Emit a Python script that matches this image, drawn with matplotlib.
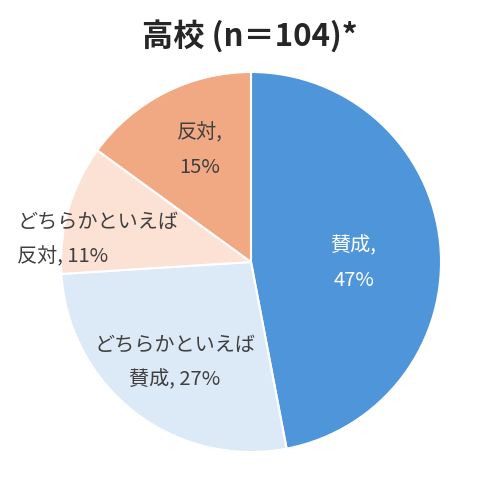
import numpy as np
import matplotlib
matplotlib.use("Agg")
import matplotlib.pyplot as plt

plt.rcParams['font.family'] = ['Noto Sans CJK JP', 'DejaVu Sans']

# ----------------------------
# Data
# ----------------------------
title = "高校 (n＝104)*"
labels = ["賛成,\n47%", "どちらかといえば\n賛成, 27%", "どちらかといえば\n反対, 11%", "反対,\n15%"]
values = [47, 27, 11, 15]
colors = ["#4E95D9", "#DCEAF7", "#FBE2D5", "#F1A983"]
text_colors = ["white", "#404040", "#404040", "#404040"]

fig = plt.figure(figsize=(5, 4.87), dpi=100)

cx, cy, r = 251, 262, 190
ax = fig.add_axes([(cx - r) / 500, (487 - cy - r) / 487, 2 * r / 500, 2 * r / 487])

wedges, _ = ax.pie(
    values,
    colors=colors,
    startangle=90,
    counterclock=False,
    radius=1,
    wedgeprops=dict(edgecolor="white", linewidth=1.5),
)
ax.set_xlim(-1, 1)
ax.set_ylim(-1, 1)
ax.set_aspect("equal")

# label anchors (data coords, pie radius = 1)
label_pos = [(0.54, -0.005), (-0.40, -0.53), (-1.23, 0.12), (-0.27, 0.59)]

for i, w in enumerate(wedges):
    x, y = label_pos[i]
    ax.text(x, y, labels[i], ha="left" if i == 2 else "center", va="center",
            fontsize=14.5, color=text_colors[i], linespacing=1.85)

fig.text(0.5, 1 - 36 / 487, title, ha="center", va="center",
         fontsize=22.5, fontweight="bold", color="#262626")

fig.savefig("out.png", dpi=100)
